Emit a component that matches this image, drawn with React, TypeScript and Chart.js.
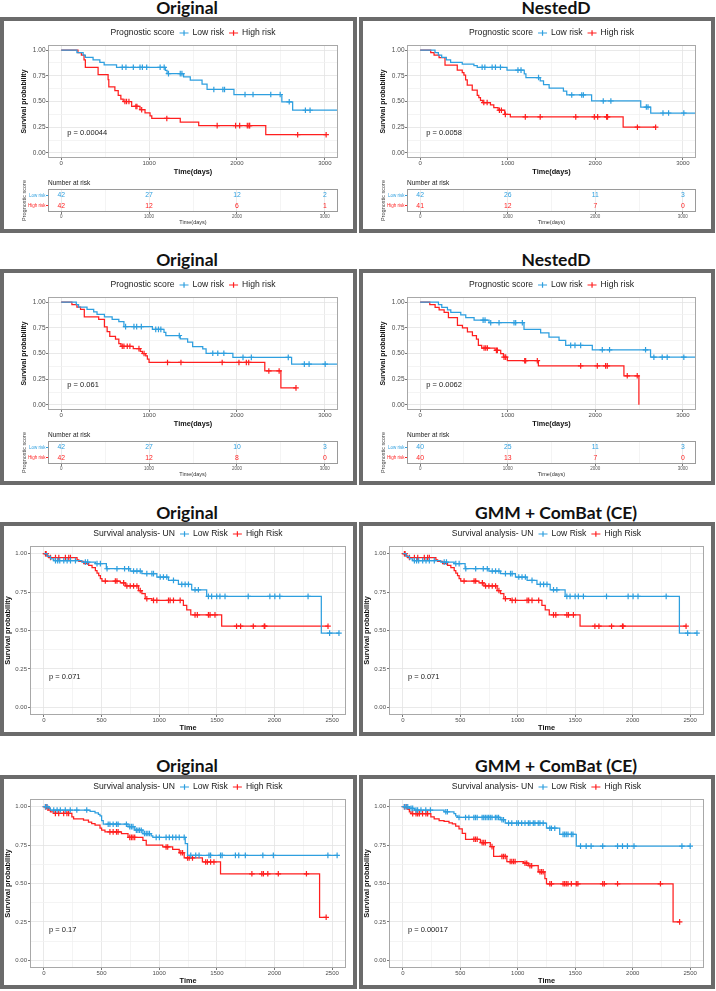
import React, { useEffect, useRef } from 'react';
import { Chart, registerables } from 'chart.js';

Chart.register(...registerables);

const FONT = '"Liberation Sans", Arial, Helvetica, sans-serif';
Chart.defaults.font.family = FONT;
const BLUE = '#2E9FDF';
const RED = '#FF1F1F';

// ---- axis ticks ----
const xMajorDays = [0, 1000, 2000, 3000];
const xMinorDays = [500, 1500, 2500];
const xMajorTime = [0, 500, 1000, 1500, 2000, 2500];
const xMinorTime = [250, 750, 1250, 1750, 2250];
const yMajor = [0, 0.25, 0.5, 0.75, 1];
const yMinor = [0.125, 0.375, 0.625, 0.875];
const riskTimes = [0, 1000, 2000, 3000];
const riskRowsLbl = ['Low risk', 'High risk'];

// ---- Panel A : Original (row 1) ----
const aLowT = [179, 250, 275, 363, 440, 489, 630, 1185, 1205, 1393, 1469, 1603, 1660, 1966, 2511, 2634];
const aLowS = [0.976, 0.952, 0.929, 0.905, 0.881, 0.857, 0.833, 0.802, 0.771, 0.74, 0.709, 0.67, 0.617, 0.568, 0.497, 0.415];
const aLowC = [695, 737, 821, 897, 924, 973, 1126, 1172, 1221, 1355, 1374, 1737, 1840, 1859, 2092, 2183, 2385, 2492, 2595, 2779, 2832];
const aHighT = [191, 230, 260, 275, 420, 534, 542, 611, 649, 679, 706, 802, 897, 954, 1011, 1031, 1355, 1565, 2328];
const aHighS = [0.976, 0.952, 0.905, 0.833, 0.762, 0.714, 0.643, 0.607, 0.56, 0.524, 0.5, 0.452, 0.42, 0.39, 0.36, 0.335, 0.3, 0.265, 0.177];
const aHighC = [725, 744, 771, 850, 862, 916, 1202, 1775, 1985, 2031, 2118, 2137, 2145, 2691, 3015];
const aRiskLow = [42, 27, 12, 2];
const aRiskHigh = [42, 12, 6, 1];

// ---- Panel B : NestedD (row 1) ----
const bLowT = [170, 208, 246, 299, 348, 481, 614, 652, 992, 1189, 1208, 1371, 1409, 1473, 1636, 1674, 1958, 2519, 2633];
const bLowS = [0.976, 0.952, 0.929, 0.905, 0.881, 0.865, 0.85, 0.833, 0.805, 0.77, 0.733, 0.7, 0.664, 0.63, 0.6, 0.564, 0.505, 0.446, 0.388];
const bLowC = [708, 739, 822, 860, 917, 1117, 1152, 1352, 1731, 1845, 1864, 2091, 2178, 2583, 2602, 2773, 2837, 3011];
const bHighT = [121, 159, 216, 284, 424, 481, 500, 519, 538, 595, 652, 670, 689, 716, 803, 841, 890, 966, 1030, 2318];
const bHighS = [0.976, 0.951, 0.927, 0.854, 0.805, 0.78, 0.756, 0.71, 0.66, 0.61, 0.56, 0.537, 0.512, 0.49, 0.466, 0.44, 0.415, 0.375, 0.35, 0.25];
const bHighC = [727, 765, 905, 928, 973, 1201, 1371, 1777, 1989, 2027, 2129, 2140, 2481, 2689];
const bRiskLow = [42, 26, 11, 3];
const bRiskHigh = [41, 12, 7, 0];

// ---- Panel C : Original (row 2) ----
const cLowT = [172, 198, 294, 370, 408, 492, 580, 656, 714, 1038, 1170, 1191, 1355, 1439, 1496, 1611, 1649, 1954, 2622];
const cLowS = [0.976, 0.952, 0.929, 0.905, 0.881, 0.857, 0.833, 0.81, 0.762, 0.735, 0.705, 0.675, 0.643, 0.61, 0.567, 0.544, 0.502, 0.462, 0.397];
const cLowC = [733, 828, 859, 912, 1076, 1107, 1134, 1344, 1725, 1782, 1851, 2069, 2164, 2584, 2767, 2821, 3004];
const cHighT = [122, 179, 220, 263, 427, 492, 523, 553, 618, 656, 680, 820, 900, 924, 962, 981, 1000, 2317, 2500];
const cHighS = [0.976, 0.952, 0.929, 0.857, 0.833, 0.76, 0.714, 0.666, 0.64, 0.595, 0.57, 0.547, 0.52, 0.5, 0.476, 0.446, 0.413, 0.33, 0.165];
const cHighC = [695, 714, 752, 782, 885, 943, 1210, 1363, 1832, 2023, 2107, 2134, 2363, 2480, 2672];
const cRiskLow = [42, 27, 10, 3];
const cRiskHigh = [42, 12, 8, 0];

// ---- Panel D : NestedD (row 2) ----
const dLowT = [209, 247, 312, 350, 464, 521, 616, 787, 1186, 1376, 1471, 1586, 1662, 1966, 2631];
const dLowS = [0.975, 0.95, 0.925, 0.9, 0.875, 0.85, 0.825, 0.8, 0.734, 0.7, 0.66, 0.628, 0.579, 0.536, 0.464];
const dLowC = [719, 741, 806, 901, 1072, 1091, 1167, 1719, 1768, 1833, 2080, 2163, 2574, 2669, 2764, 2821, 3011];
const dHighT = [110, 171, 217, 274, 323, 426, 483, 540, 597, 643, 665, 703, 856, 920, 951, 996, 1350, 2327, 2498];
const dHighS = [0.975, 0.95, 0.925, 0.9, 0.85, 0.775, 0.75, 0.71, 0.675, 0.64, 0.58, 0.553, 0.53, 0.5, 0.465, 0.43, 0.38, 0.283, 0];
const dHighC = [730, 749, 768, 871, 882, 958, 977, 1194, 1205, 1338, 1833, 2023, 2118, 2137, 2365, 2479];
const dRiskLow = [40, 25, 11, 3];
const dRiskHigh = [40, 13, 7, 0];

// ---- Panels E & F : Original / GMM + ComBat (row 3, same curves) ----
const eLowT = [29, 58, 86, 330, 447, 542, 749, 850, 980, 1081, 1167, 1282, 1412, 2406];
const eLowS = [0.983, 0.967, 0.955, 0.945, 0.935, 0.902, 0.887, 0.87, 0.848, 0.826, 0.8, 0.765, 0.722, 0.483];
const eLowC = [101, 120, 138, 173, 202, 231, 274, 360, 380, 461, 490, 548, 634, 700, 735, 778, 807, 836, 893, 937, 951, 1009, 1037, 1066, 1124, 1196, 1225, 1254, 1311, 1340, 1427, 1455, 1499, 1527, 1571, 1772, 1960, 2003, 2046, 2291, 2478, 2559];
const eHighT = [29, 43, 288, 303, 346, 389, 418, 447, 461, 476, 490, 504, 663, 706, 821, 850, 879, 937, 1210, 1239, 1274, 1542];
const eHighS = [0.985, 0.975, 0.96, 0.95, 0.935, 0.924, 0.909, 0.89, 0.874, 0.857, 0.837, 0.822, 0.81, 0.79, 0.76, 0.74, 0.707, 0.696, 0.663, 0.635, 0.602, 0.528];
const eHighC = [14, 20, 58, 101, 130, 187, 216, 231, 533, 620, 634, 692, 720, 749, 778, 807, 836, 893, 951, 980, 1081, 1095, 1124, 1182, 1311, 1331, 1427, 1441, 1484, 1671, 1706, 1816, 1911, 1916, 2464];

// ---- Panel G : Original (row 4) ----
const gLowT = [43, 57, 401, 444, 473, 487, 501, 515, 730, 788, 859, 931, 945, 1226, 1246];
const gLowS = [0.99, 0.978, 0.97, 0.96, 0.95, 0.94, 0.91, 0.886, 0.87, 0.847, 0.825, 0.81, 0.8, 0.76, 0.683];
const gLowC = [14, 29, 86, 115, 143, 186, 229, 286, 372, 558, 573, 601, 630, 644, 716, 745, 759, 773, 802, 816, 830, 845, 873, 888, 902, 916, 974, 1002, 1060, 1088, 1117, 1145, 1174, 1217, 1274, 1317, 1346, 1432, 1446, 1532, 1546, 1661, 1690, 1747, 1899, 1990, 2463, 2543];
const gHighT = [29, 43, 57, 86, 243, 258, 344, 387, 415, 444, 487, 501, 530, 673, 730, 859, 888, 1031, 1117, 1174, 1217, 1375, 1532, 2391];
const gHighS = [0.99, 0.978, 0.967, 0.956, 0.934, 0.92, 0.913, 0.9, 0.89, 0.88, 0.86, 0.847, 0.836, 0.825, 0.8, 0.78, 0.75, 0.738, 0.722, 0.7, 0.667, 0.64, 0.563, 0.28];
const gHighC = [14, 20, 35, 100, 129, 172, 200, 215, 573, 601, 630, 644, 745, 759, 773, 788, 1060, 1074, 1188, 1203, 1246, 1260, 1289, 1403, 1418, 1446, 1475, 1804, 1890, 1904, 1942, 2033, 2277, 2448];

// ---- Panel H : GMM + ComBat (row 4) ----
const hLowT = [57, 101, 359, 445, 460, 474, 848, 891, 1250, 1365, 1509];
const hLowS = [0.989, 0.978, 0.967, 0.955, 0.94, 0.93, 0.915, 0.893, 0.86, 0.82, 0.743];
const hLowC = [14, 29, 43, 72, 86, 115, 129, 158, 200, 240, 374, 388, 489, 546, 575, 618, 632, 647, 690, 704, 718, 733, 747, 761, 776, 805, 819, 833, 862, 876, 920, 948, 991, 1006, 1034, 1063, 1092, 1106, 1135, 1149, 1178, 1193, 1221, 1279, 1293, 1322, 1394, 1408, 1422, 1437, 1466, 1480, 1546, 1595, 1638, 1739, 1868, 1911, 1954, 2011, 2428, 2500];
const hHighT = [43, 57, 72, 244, 273, 316, 359, 402, 431, 460, 489, 517, 546, 675, 761, 790, 905, 1049, 1092, 1178, 1236, 1250, 2351];
const hHighS = [0.982, 0.967, 0.955, 0.933, 0.92, 0.91, 0.904, 0.895, 0.888, 0.873, 0.855, 0.826, 0.788, 0.766, 0.74, 0.676, 0.643, 0.632, 0.616, 0.576, 0.531, 0.498, 0.25];
const hHighC = [14, 29, 86, 115, 129, 144, 172, 201, 216, 618, 632, 647, 690, 704, 718, 776, 862, 876, 891, 934, 948, 963, 977, 1063, 1078, 1106, 1121, 1193, 1207, 1221, 1279, 1293, 1394, 1408, 1422, 1437, 1466, 1509, 1523, 1739, 1753, 1868, 2241, 2408];

type Curve = { T: number[]; S: number[]; C: number[]; end: number };
type Spec = {
  title: string; kind: 'K' | 'S'; fx: number; fy: number; titleX: number;
  legendTitle: string; labels: string[]; low: Curve; high: Curve; p: string;
  riskLow?: number[]; riskHigh?: number[];
};

function stepAt(T: number[], S: number[], t: number) {
  let v = 1;
  for (let i = 0; i < T.length; i++) if (T[i] <= t) v = S[i];
  return v;
}
function curvePoints(c: Curve) {
  const pts = [{ x: 0, y: 1 }];
  c.T.forEach((t, i) => pts.push({ x: t, y: c.S[i] }));
  if (c.end > c.T[c.T.length - 1]) pts.push({ x: c.end, y: c.S[c.S.length - 1] });
  return pts;
}
function censorPoints(c: Curve) {
  return c.C.map((t) => ({ x: t, y: stepAt(c.T, c.S, t) }));
}

const ROW_Y = [17, 269, 522, 775];
const COL_X = [0, 359];
const TITLE_X = [187, 556];

const SPECS: Spec[] = [
  { title: 'Original', kind: 'K', fx: COL_X[0], fy: ROW_Y[0], titleX: TITLE_X[0], legendTitle: 'Prognostic score', labels: ['Low risk', 'High risk'],
    low: { T: aLowT, S: aLowS, C: aLowC, end: 3150 }, high: { T: aHighT, S: aHighS, C: aHighC, end: 3015 }, p: 'p = 0.00044', riskLow: aRiskLow, riskHigh: aRiskHigh },
  { title: 'NestedD', kind: 'K', fx: COL_X[1], fy: ROW_Y[0], titleX: TITLE_X[1], legendTitle: 'Prognostic score', labels: ['Low risk', 'High risk'],
    low: { T: bLowT, S: bLowS, C: bLowC, end: 3150 }, high: { T: bHighT, S: bHighS, C: bHighC, end: 2689 }, p: 'p = 0.0058', riskLow: bRiskLow, riskHigh: bRiskHigh },
  { title: 'Original', kind: 'K', fx: COL_X[0], fy: ROW_Y[1], titleX: TITLE_X[0], legendTitle: 'Prognostic score', labels: ['Low risk', 'High risk'],
    low: { T: cLowT, S: cLowS, C: cLowC, end: 3150 }, high: { T: cHighT, S: cHighS, C: cHighC, end: 2672 }, p: 'p = 0.061', riskLow: cRiskLow, riskHigh: cRiskHigh },
  { title: 'NestedD', kind: 'K', fx: COL_X[1], fy: ROW_Y[1], titleX: TITLE_X[1], legendTitle: 'Prognostic score', labels: ['Low risk', 'High risk'],
    low: { T: dLowT, S: dLowS, C: dLowC, end: 3150 }, high: { T: dHighT, S: dHighS, C: dHighC, end: 2498 }, p: 'p = 0.0062', riskLow: dRiskLow, riskHigh: dRiskHigh },
  { title: 'Original', kind: 'S', fx: COL_X[0], fy: ROW_Y[2], titleX: TITLE_X[0], legendTitle: 'Survival analysis- UN', labels: ['Low Risk', 'High Risk'],
    low: { T: eLowT, S: eLowS, C: eLowC, end: 2559 }, high: { T: eHighT, S: eHighS, C: eHighC, end: 2464 }, p: 'p = 0.071' },
  { title: 'GMM + ComBat (CE)', kind: 'S', fx: COL_X[1], fy: ROW_Y[2], titleX: TITLE_X[1], legendTitle: 'Survival analysis- UN', labels: ['Low Risk', 'High Risk'],
    low: { T: eLowT, S: eLowS, C: eLowC, end: 2559 }, high: { T: eHighT, S: eHighS, C: eHighC, end: 2464 }, p: 'p = 0.071' },
  { title: 'Original', kind: 'S', fx: COL_X[0], fy: ROW_Y[3], titleX: TITLE_X[0], legendTitle: 'Survival analysis- UN', labels: ['Low Risk', 'High Risk'],
    low: { T: gLowT, S: gLowS, C: gLowC, end: 2543 }, high: { T: gHighT, S: gHighS, C: gHighC, end: 2448 }, p: 'p = 0.17' },
  { title: 'GMM + ComBat (CE)', kind: 'S', fx: COL_X[1], fy: ROW_Y[3], titleX: TITLE_X[1], legendTitle: 'Survival analysis- UN', labels: ['Low Risk', 'High Risk'],
    low: { T: hLowT, S: hLowS, C: hLowC, end: 2500 }, high: { T: hHighT, S: hHighS, C: hHighC, end: 2408 }, p: 'p = 0.00017' },
];

// ---- plugins ----
const legendPlugin = {
  id: 'kmLegend',
  afterDraw(chart: any, _a: any, opts: any) {
    const { ctx, chartArea } = chart;
    ctx.save();
    ctx.font = `${opts.size}px ${FONT}`;
    ctx.textBaseline = 'middle';
    ctx.textAlign = 'left';
    const gapT = 5, mark = 9, gapM = 4;
    let total = ctx.measureText(opts.title).width;
    opts.items.forEach((it: any) => { total += gapT + mark + gapM + ctx.measureText(it.label).width; });
    let x = (chartArea.left + chartArea.right) / 2 - total / 2;
    const y = opts.y;
    ctx.fillStyle = '#1a1a1a';
    ctx.fillText(opts.title, x, y);
    x += ctx.measureText(opts.title).width;
    for (const it of opts.items) {
      x += gapT;
      ctx.strokeStyle = it.color;
      ctx.lineWidth = 1.2;
      ctx.beginPath();
      ctx.moveTo(x, y); ctx.lineTo(x + mark, y);
      const cx = x + mark / 2;
      ctx.moveTo(cx, y - 2.7); ctx.lineTo(cx, y + 2.7);
      ctx.stroke();
      x += mark + gapM;
      ctx.fillStyle = '#1a1a1a';
      ctx.fillText(it.label, x, y);
      x += ctx.measureText(it.label).width;
    }
    ctx.restore();
  },
};

const pvalPlugin = {
  id: 'pval',
  afterDatasetsDraw(chart: any, _a: any, opts: any) {
    const { ctx, scales } = chart;
    ctx.save();
    ctx.font = `${opts.size}px ${FONT}`;
    ctx.fillStyle = '#1a1a1a';
    ctx.textBaseline = 'middle';
    ctx.textAlign = 'left';
    ctx.fillText(opts.text, scales.x.getPixelForValue(opts.x), scales.y.getPixelForValue(opts.y));
    ctx.restore();
  },
};

const borderPlugin = {
  id: 'panelBorder',
  afterDatasetsDraw(chart: any, _a: any, opts: any) {
    const { ctx, chartArea: a } = chart;
    ctx.save();
    ctx.strokeStyle = opts.color;
    ctx.lineWidth = 1;
    ctx.strokeRect(Math.round(a.left) + 0.5, Math.round(a.top) + 0.5, Math.round(a.right - a.left) - 1, Math.round(a.bottom - a.top) - 1);
    ctx.restore();
  },
};

const riskPlugin = {
  id: 'riskText',
  afterDatasetsDraw(chart: any, _a: any, opts: any) {
    const { ctx, chartArea: a } = chart;
    ctx.save();
    ctx.font = `${opts.size}px ${FONT}`;
    ctx.textAlign = 'center';
    ctx.textBaseline = 'middle';
    chart.data.datasets.forEach((ds: any, i: number) => {
      const meta = chart.getDatasetMeta(i);
      ctx.fillStyle = ds.borderColor;
      meta.data.forEach((el: any, j: number) => ctx.fillText(String(ds.data[j].n), el.x, el.y));
    });
    ctx.font = `${opts.titleSize}px ${FONT}`;
    ctx.textAlign = 'left';
    ctx.fillStyle = '#1a1a1a';
    ctx.fillText(opts.title, a.left, opts.titleY);
    ctx.restore();
  },
};

function gridCfg(major: number[]) {
  return {
    color: (c: any) => (major.includes(c.tick?.value) ? '#e3e3e3' : '#f1f1f1'),
    tickColor: (c: any) => (major.includes(c.tick?.value) ? '#555555' : 'rgba(0,0,0,0)'),
    tickLength: 2,
    lineWidth: 0.8,
  };
}

function makeKM(canvas: HTMLCanvasElement, spec: Spec) {
  const K = spec.kind === 'K';
  const xMajor = K ? xMajorDays : xMajorTime;
  const xMinor = K ? xMinorDays : xMinorTime;
  const xTicks = [...xMajor, ...xMinor].sort((a, b) => a - b);
  const yTicks = [...yMajor, ...yMinor].sort((a, b) => a - b);
  const mk = (c: Curve, color: string) => [
    { data: curvePoints(c), borderColor: color, backgroundColor: color, showLine: true, stepped: true, pointRadius: 0, borderWidth: 1.25, fill: false },
    { data: censorPoints(c), borderColor: color, backgroundColor: color, showLine: false, pointStyle: 'cross', pointRadius: 2.8, borderWidth: 1.2 },
  ];
  return new Chart(canvas, {
    type: 'scatter',
    data: { datasets: [...mk(spec.low, BLUE), ...mk(spec.high, RED)] as any },
    options: {
      animation: false,
      responsive: false,
      events: [],
      layout: { padding: K ? { top: 24, right: 15, left: 0, bottom: 3 } : { top: 20, right: 7, left: 0, bottom: 0 } },
      plugins: {
        legend: { display: false },
        tooltip: { enabled: false },
        kmLegend: { title: spec.legendTitle, items: [{ label: spec.labels[0], color: BLUE }, { label: spec.labels[1], color: RED }], y: K ? 12 : 8, size: 8.6 },
        pval: { text: spec.p, x: K ? 70 : 45, y: K ? 0.19 : 0.195, size: 7.5 },
        panelBorder: { color: '#a8a8a8' },
      } as any,
      scales: {
        x: {
          type: 'linear',
          min: K ? -150 : -120,
          max: K ? 3150 : 2620,
          afterBuildTicks: (ax: any) => { ax.ticks = xTicks.map((v) => ({ value: v })); },
          afterFit: (ax: any) => { ax.height = K ? 18 : 17; },
          ticks: { callback: (v: any) => (xMajor.includes(v) ? String(v) : ''), font: { size: 6 }, color: '#4d4d4d', padding: 0, maxRotation: 0, autoSkip: false },
          grid: gridCfg(xMajor),
          border: { display: false },
          title: { display: true, text: K ? 'Time(days)' : 'Time', font: { size: 7.3, weight: 'bold' }, color: '#111', padding: 0 },
        },
        y: {
          type: 'linear',
          min: -0.05,
          max: 1.05,
          afterBuildTicks: (ax: any) => { ax.ticks = yTicks.map((v) => ({ value: v })); },
          afterFit: (ax: any) => { ax.width = K ? 44 : 26; },
          ticks: { callback: (v: any) => (yMajor.includes(v) ? Number(v).toFixed(2) : ''), font: { size: K ? 6.5 : 6 }, color: '#4d4d4d', padding: K ? 0.5 : 1, autoSkip: false },
          grid: gridCfg(yMajor),
          border: { display: false },
          title: { display: true, text: 'Survival probability', font: { size: K ? 6.9 : 7.4, weight: 'bold' }, color: '#111', padding: { top: K ? 16 : 0, bottom: 0 } },
        },
      } as any,
    },
    plugins: [legendPlugin, pvalPlugin, borderPlugin],
  });
}

function makeRisk(canvas: HTMLCanvasElement, spec: Spec) {
  const xTicks = [...xMajorDays, ...xMinorDays].sort((a, b) => a - b);
  const rl = spec.riskLow || [];
  const rh = spec.riskHigh || [];
  return new Chart(canvas, {
    type: 'scatter',
    data: {
      datasets: [
        { data: riskTimes.map((t, i) => ({ x: t, y: 1, n: rl[i] })), borderColor: BLUE, pointRadius: 0 },
        { data: riskTimes.map((t, i) => ({ x: t, y: 2, n: rh[i] })), borderColor: RED, pointRadius: 0 },
      ] as any,
    },
    options: {
      animation: false,
      responsive: false,
      events: [],
      layout: { padding: { top: 10, right: 15, left: 0, bottom: 3 } },
      plugins: {
        legend: { display: false },
        tooltip: { enabled: false },
        riskText: { size: 6.8, title: 'Number at risk', titleSize: 6.5, titleY: 4 },
        panelBorder: { color: '#9a9a9a' },
      } as any,
      scales: {
        x: {
          type: 'linear',
          min: -150,
          max: 3150,
          afterBuildTicks: (ax: any) => { ax.ticks = xTicks.map((v) => ({ value: v })); },
          afterFit: (ax: any) => { ax.height = 14; },
          ticks: { callback: (v: any) => (xMajorDays.includes(v) ? String(v) : ''), font: { size: 4.5 }, color: '#555', padding: 0, maxRotation: 0, autoSkip: false },
          grid: gridCfg(xMajorDays),
          border: { display: false },
          title: { display: true, text: 'Time(days)', font: { size: 5.5 }, color: '#333', padding: 0 },
        },
        y: {
          type: 'linear',
          min: 0.4,
          max: 2.6,
          reverse: true,
          afterBuildTicks: (ax: any) => { ax.ticks = [{ value: 1 }, { value: 2 }]; },
          afterFit: (ax: any) => { ax.width = 44; },
          ticks: { callback: (v: any) => riskRowsLbl[Number(v) - 1], font: { size: 4.5 }, color: (c: any) => (c.tick?.value === 1 ? BLUE : RED), padding: 0.5 },
          grid: { drawOnChartArea: false, tickLength: 2, tickColor: (c: any) => (c.tick?.value === 1 ? BLUE : RED) },
          border: { display: false },
          title: { display: true, text: 'Prognostic score', font: { size: 5.5 }, color: '#444', padding: { top: 17, bottom: 0 } },
        },
      } as any,
    },
    plugins: [riskPlugin, borderPlugin],
  });
}

function Panel({ spec }: { spec: Spec }) {
  const mainRef = useRef<HTMLCanvasElement>(null);
  const riskRef = useRef<HTMLCanvasElement>(null);
  const K = spec.kind === 'K';
  useEffect(() => {
    const charts: Chart[] = [];
    if (mainRef.current) charts.push(makeKM(mainRef.current, spec));
    if (K && riskRef.current) charts.push(makeRisk(riskRef.current, spec));
    return () => charts.forEach((c) => c.destroy());
  }, [spec]);
  const fw = spec.fx === 0 ? 357 : 356;
  const fh = K ? 216 : 214;
  const iw = fw - 8;
  return (
    <>
      <div style={{ position: 'absolute', left: spec.titleX - 130, top: spec.fy - 19, width: 260, height: 20, lineHeight: '20px', textAlign: 'center', fontFamily: 'Lato, "Open Sans", sans-serif', fontWeight: 700, fontSize: 17.5, color: '#111', whiteSpace: 'nowrap' }}>{spec.title}</div>
      <div style={{ position: 'absolute', left: spec.fx, top: spec.fy, width: fw, height: fh, border: '4px solid #6b6b6b', boxSizing: 'border-box' }} />
      <canvas ref={mainRef} width={iw} height={K ? 158 : 206} style={{ position: 'absolute', left: spec.fx + 4, top: spec.fy + 4 }} />
      {K && <canvas ref={riskRef} width={iw} height={50} style={{ position: 'absolute', left: spec.fx + 4, top: spec.fy + 162 }} />}
    </>
  );
}

export default function App() {
  return (
    <div style={{ position: 'absolute', left: 0, top: 0, width: 716, height: 991, background: '#ffffff', overflow: 'hidden' }}>
      {SPECS.map((s, i) => (
        <Panel key={i} spec={s} />
      ))}
    </div>
  );
}
